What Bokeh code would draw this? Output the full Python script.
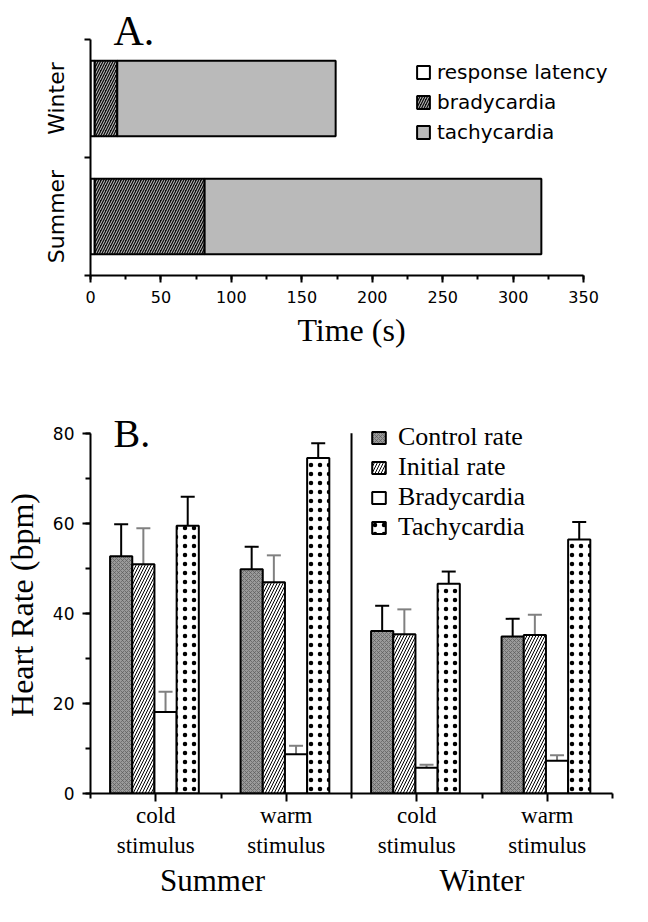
import numpy as np
from bokeh.plotting import figure
from bokeh.models import (ColumnDataSource, FixedTicker, SingleIntervalTicker, Legend, LegendItem,
                          Label, Whisker, TeeHead, Range1d, LinearAxis)
from bokeh.layouts import column
from bokeh.embed import file_html
from bokeh.resources import INLINE

# ---------------- data ----------------
# Panel A: durations (s)
seasons_a = ["Summer", "Winter"]
latency_s = [3, 3]
bradycardia_s = [78, 16]
tachycardia_s = [239, 155]

# Panel B: heart rate (bpm), mean and SE
stimuli = ["cold\nstimulus", "warm\nstimulus", "cold\nstimulus", "warm\nstimulus"]
group_names = ["Summer", "Winter"]
series_b = ["Control rate", "Initial rate", "Bradycardia", "Tachycardia"]
control_rate = [52.7, 49.8, 36.1, 34.9]
control_err = [7.1, 5.0, 5.6, 3.9]
initial_rate = [50.9, 46.9, 35.4, 35.2]
initial_err = [8.0, 6.0, 5.5, 4.5]
brady_rate = [18.1, 8.7, 5.7, 7.3]
brady_err = [4.5, 1.9, 0.7, 1.2]
tachy_rate = [59.5, 74.5, 46.6, 56.4]
tachy_err = [6.4, 3.3, 2.7, 3.9]

SANS = "DejaVu Sans"
SERIF = "Liberation Serif"


def style_axis(ax, tick_font, tick_size):
    ax.axis_line_width = 2
    ax.axis_line_color = "black"
    ax.major_tick_line_width = 2
    ax.minor_tick_line_width = 2
    ax.major_tick_line_color = "black"
    ax.minor_tick_line_color = "black"
    ax.major_tick_in = 0
    ax.minor_tick_in = 0
    ax.major_label_text_font = tick_font
    ax.major_label_text_font_size = tick_size
    ax.major_label_text_color = "black"
    ax.axis_label_text_color = "black"
    ax.axis_label_text_font_style = "normal"


# ---------------- panel A ----------------
# frame: page x 81..640, y 10..283 ; 350 s -> x 609, y=2 -> page 47
pa = figure(width=632, height=370, x_range=Range1d(0, 370.5), y_range=Range1d(0, 2.3136),
            output_backend="svg", toolbar_location=None,
            min_border_left=73, min_border_right=0, min_border_top=2, min_border_bottom=95)
pa.grid.grid_line_color = None
pa.outline_line_color = None

ya = np.arange(len(seasons_a)) + 0.5
lat = np.array(latency_s, dtype=float)
br = np.array(bradycardia_s, dtype=float)
ta = np.array(tachycardia_s, dtype=float)
src_a = ColumnDataSource(dict(y=ya, l0=np.zeros(len(ya)), r0=lat, r1=lat + br, r2=lat + br + ta))

bh = 0.64
r_lat = pa.hbar(y="y", left="l0", right="r0", height=bh, source=src_a,
                fill_color="white", line_color="black", line_width=2)
r_br = pa.hbar(y="y", left="r0", right="r1", height=bh, source=src_a,
               fill_color="#0d0d0d", hatch_pattern="/", hatch_color="white",
               hatch_scale=5, hatch_weight=0.8, line_color="black", line_width=2)
r_ta = pa.hbar(y="y", left="r1", right="r2", height=bh, source=src_a,
               fill_color="#bababa", line_color="black", line_width=2)

ay = pa.yaxis[0]
style_axis(ay, SANS, "22px")
ay.bounds = (0, 2)
ay.ticker = FixedTicker(ticks=list(ya), minor_ticks=[0, 1, 2])
ay.major_label_overrides = {float(v): s for v, s in zip(ya, seasons_a)}
ay.major_tick_line_color = None
ay.major_tick_out = 0
ay.minor_tick_out = 6
ay.major_label_orientation = "vertical"
ay.major_label_standoff = 15

ax = pa.xaxis[0]
style_axis(ax, SANS, "16px")
ax.bounds = (0, 350)
ax.ticker = SingleIntervalTicker(interval=50, num_minor_ticks=2)
ax.major_tick_out = 7
ax.minor_tick_out = 4
ax.major_label_standoff = 8
ax.axis_label = "Time (s)"
ax.axis_label_text_font = SERIF
ax.axis_label_text_font_size = "32px"
ax.axis_label_standoff = 6

leg_a = Legend(items=[LegendItem(label="response latency", renderers=[r_lat]),
                      LegendItem(label="bradycardia", renderers=[r_br]),
                      LegendItem(label="tachycardia", renderers=[r_ta])],
               location=(325, 129), padding=0, margin=0, border_line_color=None,
               background_fill_alpha=0, glyph_width=16, glyph_height=16,
               label_text_font=SANS, label_text_font_size="20px", label_height=28,
               label_text_color="black", spacing=2, label_standoff=6)
pa.add_layout(leg_a)

pa.add_layout(Label(x=23, y=245, x_units="screen", y_units="screen", text="A.",
                    text_font=SERIF, text_font_size="42px", text_baseline="alphabetic",
                    text_color="black"))

# ---------------- panel B ----------------
# frame: page x 93..620, y 424..805 ; 80 bpm -> page 441
pb = figure(width=632, height=530, x_range=Range1d(0, 8), y_range=Range1d(0, 83.74),
            output_backend="svg", toolbar_location=None,
            min_border_left=85, min_border_right=20, min_border_top=46, min_border_bottom=103)
pb.grid.grid_line_color = None
pb.outline_line_color = None

centers = 2 * np.arange(len(stimuli)) + 1
offsets = [-0.53, -0.19, 0.15, 0.49]
bw = 0.34

styles = [
    dict(fill_color="#9a9a9a", hatch_pattern="x", hatch_color="#5a5a5a", hatch_scale=4, hatch_weight=0.7),
    dict(fill_color="white", hatch_pattern="/", hatch_color="black", hatch_scale=6, hatch_weight=1),
    dict(fill_color="white"),
    dict(fill_color="white", hatch_pattern=".", hatch_color="black", hatch_scale=9, hatch_weight=0.8),
]
err_colors = ["black", "#808080", "#808080", "black"]
vals_list = [control_rate, initial_rate, brady_rate, tachy_rate]
errs_list = [control_err, initial_err, brady_err, tachy_err]

renderers_b = []
for off, vals, errs, st, ec in zip(offsets, vals_list, errs_list, styles, err_colors):
    v = np.array(vals, dtype=float)
    e = np.array(errs, dtype=float)
    src = ColumnDataSource(dict(x=centers + off, top=v, upper=v + e))
    r = pb.vbar(x="x", top="top", bottom=0, width=bw, source=src,
                line_color="black", line_width=2, **st)
    renderers_b.append(r)
    w = Whisker(source=src, base="x", lower="top", upper="upper",
                line_color=ec, line_width=2,
                upper_head=TeeHead(size=14, line_color=ec, line_width=2), lower_head=None)
    pb.add_layout(w)

# season divider (between the two season groups, full height of the axis)
pb.segment(x0=[4], y0=[0], x1=[4], y1=[80], line_color="black", line_width=2)

byx = pb.yaxis[0]
style_axis(byx, SANS, "17px")
byx.bounds = (0, 80)
byx.ticker = SingleIntervalTicker(interval=20, num_minor_ticks=2)
byx.major_tick_out = 8
byx.minor_tick_out = 5
byx.major_label_standoff = 8
byx.axis_label = "Heart Rate (bpm)"
byx.axis_label_text_font = SERIF
byx.axis_label_text_font_size = "32px"
byx.axis_label_standoff = 10

bxx = pb.xaxis[0]
style_axis(bxx, SERIF, "23px")
bxx.ticker = FixedTicker(ticks=[int(c) for c in centers], minor_ticks=list(range(0, 9, 2)))
bxx.major_label_overrides = {int(c): s for c, s in zip(centers, stimuli)}
bxx.major_tick_out = 8
bxx.minor_tick_out = 5
bxx.major_label_standoff = 1

# season names as a second (unlined) axis below the stimulus labels
season_pos = [1.87, 6]
gx = LinearAxis(ticker=FixedTicker(ticks=season_pos),
                major_label_overrides={p: s for p, s in zip(season_pos, group_names)},
                axis_line_color=None, major_tick_line_color=None, minor_tick_line_color=None,
                major_tick_out=0, minor_tick_out=0, major_tick_in=0, minor_tick_in=0,
                major_label_standoff=2, major_label_text_font=SERIF,
                major_label_text_font_size="31px", major_label_text_color="black")
pb.add_layout(gx, "below")

leg_b = Legend(items=[LegendItem(label=s, renderers=[r]) for s, r in zip(series_b, renderers_b)],
               location=(280, 251), padding=0, margin=0, border_line_color=None,
               background_fill_alpha=0, glyph_width=17, glyph_height=15,
               label_text_font=SERIF, label_text_font_size="26px", label_height=26,
               label_text_color="black", spacing=-4, label_standoff=11)
pb.add_layout(leg_b)

pb.add_layout(Label(x=23, y=360, x_units="screen", y_units="screen", text="B.",
                    text_font=SERIF, text_font_size="40px", text_baseline="alphabetic",
                    text_color="black"))

layout = column(pa, pb)
open("out.html", "w").write(file_html(layout, INLINE))
